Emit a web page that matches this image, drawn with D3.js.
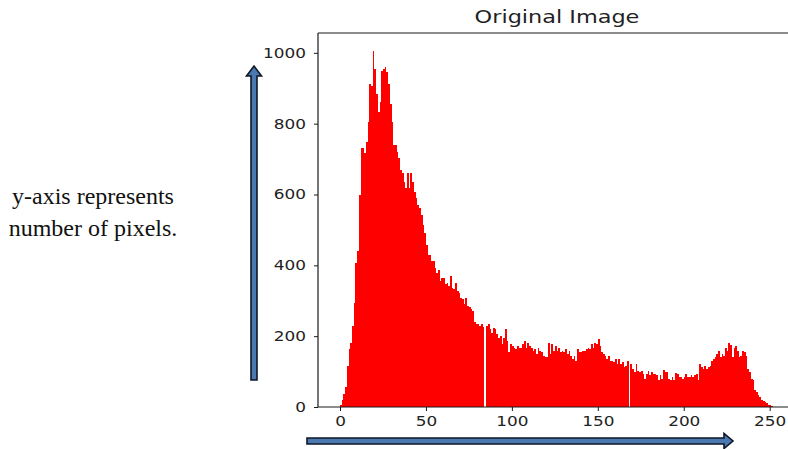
<!DOCTYPE html>
<html>
<head>
<meta charset="utf-8">
<script src="https://cdn.jsdelivr.net/npm/d3@7"></script>
<style>
  html, body { margin: 0; padding: 0; background: #fff; }
  svg { display: block; }
</style>
</head>
<body>
<svg id="chart" width="788" height="449"></svg>
<script>
// ---- data ----
const title = "Original Image";
const noteLines = ["y-axis represents", "number of pixels."];
const xTicks = [0, 50, 100, 150, 200, 250];
const yTicks = [0, 200, 400, 600, 800, 1000];
// pixel counts per intensity bin 0..255
const counts = [
  5,19,37,56,117,164,182,229,295,407,
  440,599,730,730,716,748,804,912,907,1006,
  954,884,833,861,950,954,959,945,912,856,
  804,739,739,720,702,669,660,636,617,660,
  617,660,636,608,589,571,561,543,515,490,
  458,430,430,412,412,393,379,388,355,365,
  365,346,350,341,370,337,332,350,327,322,
  309,304,290,309,286,281,276,271,239,234,
  234,229,234,227,0,229,234,220,210,224,
  220,206,196,201,178,196,220,187,154,178,
  173,168,164,173,168,168,178,187,168,182,
  173,168,159,164,150,168,159,154,145,140,
  140,182,150,178,159,173,159,168,154,159,
  154,164,150,159,145,136,145,131,164,154,
  154,159,159,164,168,164,178,168,182,178,
  192,173,154,150,145,136,145,131,131,126,
  136,122,136,122,126,112,117,131,0,122,
  108,98,122,103,98,103,94,80,94,103,
  89,98,94,94,89,75,89,80,105,98,
  98,80,75,84,75,95,94,84,84,80,
  84,94,84,84,89,84,89,94,75,122,
  112,108,117,108,112,117,131,136,140,150,
  159,140,150,145,168,159,180,176,140,168,
  173,159,140,145,159,154,145,108,98,80,
  75,47,42,33,28,21,17,14,11,7,
  5,3,1,0,0,0
];
const binStarts = counts.map((_, i) => i);

// ---- layout ----
const svg = d3.select("#chart");
const plot = { left: 318, right: 802, top: 33, bottom: 407 };
const x = d3.scaleLinear().domain([-12.8, 268.8]).range([plot.left, plot.right]);
const y = d3.scaleLinear().domain([0, 1056]).range([plot.bottom, plot.top]);
const textColor = "#222";
const sx = 1.25; // horizontal stretch of the source image text

// bars
svg.append("g").attr("shape-rendering", "crispEdges").selectAll("rect")
  .data(binStarts)
  .join("rect")
  .attr("x", d => x(d))
  .attr("width", d => x(d + 1) - x(d))
  .attr("y", d => y(counts[d]))
  .attr("height", d => y(0) - y(counts[d]))
  .attr("fill", "#ff0000");

// spines
const sp = svg.append("g").attr("stroke", "#1a1a1a").attr("stroke-width", 1.2).attr("fill", "none");
sp.append("line").attr("x1", plot.left).attr("x2", plot.left).attr("y1", plot.top).attr("y2", plot.bottom);
sp.append("line").attr("x1", plot.left).attr("x2", 790).attr("y1", plot.top).attr("y2", plot.top);
sp.append("line").attr("x1", plot.left).attr("x2", 790).attr("y1", plot.bottom).attr("y2", plot.bottom);

// y axis
const yAxis = svg.append("g").attr("transform", `translate(${plot.left},0)`)
  .call(d3.axisLeft(y).tickValues(yTicks).tickSize(4).tickPadding(0).tickFormat(d3.format("d")));
yAxis.select(".domain").remove();
yAxis.selectAll(".tick line").attr("stroke", "#1a1a1a").attr("stroke-width", 1);
yAxis.selectAll(".tick text")
  .attr("x", null).attr("dy", null)
  .attr("fill", textColor)
  .attr("font-family", "DejaVu Sans")
  .attr("font-size", 13.5)
  .attr("text-anchor", "end")
  .attr("dominant-baseline", "central")
  .attr("transform", `translate(-12,0) scale(${sx},1)`);

// x axis
const xAxis = svg.append("g").attr("transform", `translate(0,${plot.bottom})`)
  .call(d3.axisBottom(x).tickValues(xTicks).tickSize(4).tickPadding(0).tickFormat(d3.format("d")));
xAxis.select(".domain").remove();
xAxis.selectAll(".tick line").attr("stroke", "#1a1a1a").attr("stroke-width", 1);
xAxis.selectAll(".tick text")
  .attr("y", null).attr("dy", null)
  .attr("fill", textColor)
  .attr("font-family", "DejaVu Sans")
  .attr("font-size", 13.5)
  .attr("text-anchor", "middle")
  .attr("dominant-baseline", "central")
  .attr("transform", `translate(0,15) scale(${sx},1)`);

// title
svg.append("text")
  .attr("transform", `translate(${(plot.left + plot.right) / 2 - 3},23) scale(1.28,1)`)
  .attr("text-anchor", "middle")
  .attr("fill", textColor)
  .attr("font-family", "DejaVu Sans")
  .attr("font-size", 17.5)
  .text(title);

// side note
const note = svg.append("text")
  .attr("fill", "#111")
  .attr("font-family", "Liberation Serif, Times New Roman, serif")
  .attr("font-size", 24)
  .attr("text-anchor", "middle");
note.selectAll("tspan").data(noteLines).join("tspan")
  .attr("x", 93)
  .attr("y", (d, i) => 204 + i * 32)
  .text(d => d);

// arrows
const arrowFill = "#4a78b0", arrowStroke = "#0f1726";
svg.append("path")
  .attr("d", "M251,380 L251,76 L246.5,76 L254,66 L261.5,76 L257,76 L257,380 Z")
  .attr("fill", arrowFill).attr("stroke", arrowStroke).attr("stroke-width", 1.6);
svg.append("path")
  .attr("d", "M307,438 L724,438 L724,433.5 L733,441 L724,448.5 L724,444 L307,444 Z")
  .attr("fill", arrowFill).attr("stroke", arrowStroke).attr("stroke-width", 1.6);
</script>
</body>
</html>
